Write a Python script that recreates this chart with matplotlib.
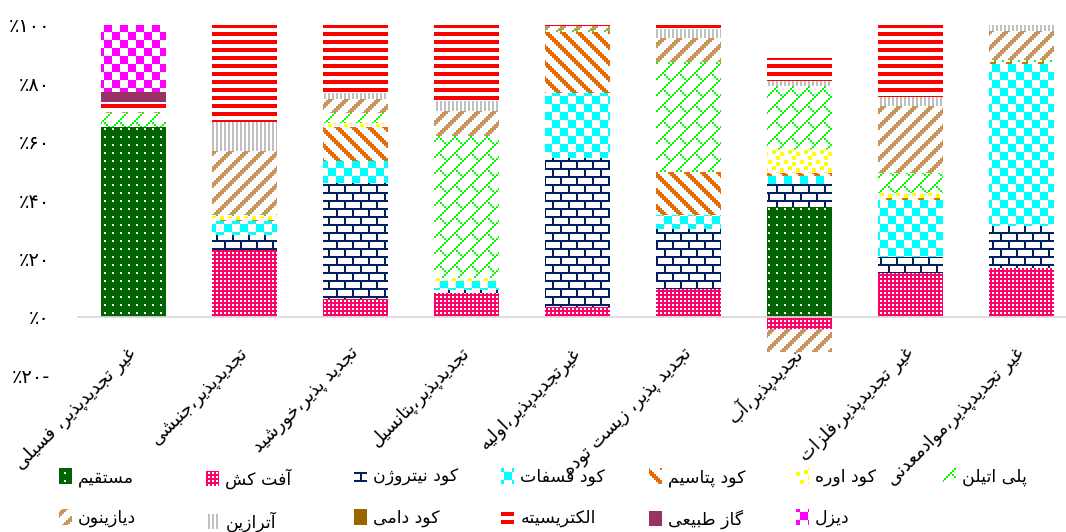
import numpy as np
import matplotlib
matplotlib.use('Agg')
import matplotlib.pyplot as plt
import matplotlib.hatch as mhatch
from matplotlib.path import Path

# ---------------- data ----------------
categories = ['غیر تجدیدپذیر، فسیلی', 'تجدیدپذیر،جنبشی', 'تجدید پذیر،خورشید',
              'تجدیدپذیر،پتانسیل', 'غیرتجدیدپذیر،اولیه', 'تجدید پذیر، زیست توده',
              'تجدیدپذیر،آب', 'غیر تجدیدپذیر،فلزات', 'غیر تجدیدپذیر،موادمعدنی']

series_names = ['مستقیم', 'آفت کش', 'کود نیتروژن', 'کود فسفات', 'کود پتاسیم', 'کود اوره',
                'پلی اتیلن', 'دیازینون', 'آترازین', 'کود دامی', 'الکتریسیته', 'گاز طبیعی', 'دیزل']

direct       = [65.0, 0.0, 0.0, 0.0, 0.0, 0.0, 37.6, 0.0, 0.0]
pesticide    = [0.0, 23.0, 6.0, 8.3, 3.3, 9.5, -4.2, 15.2, 16.7]
nitrogen     = [0.0, 5.0, 40.0, 1.0, 51.0, 20.5, 8.0, 5.3, 14.3]
phosphate    = [0.0, 5.0, 7.5, 3.2, 22.3, 5.1, 2.7, 19.6, 55.7]
potassium    = [0.0, 0.3, 11.4, 0.0, 21.1, 14.6, 0.9, 0.5, 0.5]
urea         = [0.0, 1.2, 1.4, 1.0, 0.0, 0.0, 8.2, 2.0, 0.0]
polyethylene = [5.0, 0.5, 3.4, 48.4, 0.3, 37.7, 21.7, 6.8, 0.7]
diazinon     = [0.3, 22.0, 5.1, 8.7, 1.7, 8.0, -7.7, 22.8, 10.0]
atrazine     = [0.0, 9.7, 1.9, 3.4, 0.0, 3.1, 1.8, 3.2, 2.0]
manure       = [0.0, 0.0, 0.0, 0.0, 0.0, 0.0, 0.0, 0.0, 0.0]
electricity  = [3.5, 33.3, 23.2, 26.0, 0.3, 1.5, 7.7, 24.6, 0.2]
natural_gas  = [3.4, 0.0, 0.0, 0.0, 0.0, 0.0, 0.0, 0.0, 0.0]
diesel       = [22.8, 0.0, 0.0, 0.0, 0.0, 0.0, 0.0, 0.0, 0.0]

series_values = [direct, pesticide, nitrogen, phosphate, potassium, urea, polyethylene,
                 diazinon, atrazine, manure, electricity, natural_gas, diesel]

yticks = [-20, 0, 20, 40, 60, 80, 100]
ytick_labels = ['٪۲۰-', '٪۰', '٪۲۰', '٪۴۰', '٪۶۰', '٪۸۰', '٪۱۰۰']

# ---------------- styles ----------------
face_colors = ['#006400', '#FF0066', 'white', 'white', 'white', 'white', 'white',
               'white', 'white', '#996600', 'white', '#993366', 'white']
hatch_colors = ['white', 'white', '#002060', '#00FFFF', '#E46C0A', '#FFFF00', '#00FF00',
                '#C8955C', '#C0C0C0', '#996600', '#FF0000', '#993366', '#FF00FF']
hatches = ['.', 'o', '+', 'X', '\\', '*', 'x', '/', '|', None, '-', None, 'X']

# ---------------- Excel-like 8x8 bitmap hatches ----------------
def _rows(rows):
    return np.array([[int(c) for c in r] for r in rows], dtype=bool)

def _diag(down):
    b = np.zeros((8, 8), bool)
    for r in range(8):
        for k in range(3):
            c = (r + k) % 8 if down else (7 - r - k) % 8
            b[r, c] = True
    return b

def _diag_brick():
    b = np.zeros((8, 8), bool)
    for r in range(8):
        b[r, (7 - r) % 8] = True
    for k in range(4):
        b[4 + k, 3 + k] = True
    return b

BITMAPS = {
    '.': _rows(['10001000', '00000000', '00000000', '00000000',
                '10001000', '00000000', '00000000', '00000000']),
    'o': _rows(['10101010', '00000000'] * 4),
    '+': _rows(['11111111', '10000000', '10000000', '10000000',
                '11111111', '00001000', '00001000', '00001000']),
    'X': _rows(['11110000'] * 4 + ['00001111'] * 4),
    '\\': _diag(True),
    '/': _diag(False),
    '*': _rows(['11000000', '11001100', '00001100', '00110000',
                '00110011', '00000011', '00001100', '00001100']),
    'x': _diag_brick(),
    '|': _rows(['10101010'] * 8),
    '-': _rows(['11111111', '11111111', '00000000', '00000000'] * 2),
}

REPEAT = 6  # 6 pattern repeats per hatch tile (tile = dpi pixels)

def _bitmap_path(bm):
    big = np.tile(bm, (REPEAT, REPEAT))
    n = big.shape[0]
    verts, codes = [], []
    for r in range(n):
        row = big[r]
        c = 0
        while c < n:
            if row[c]:
                c0 = c
                while c < n and row[c]:
                    c += 1
                x0, x1 = c0 / n, c / n
                yt, yb = 1 - r / n, 1 - (r + 1) / n
                verts += [(x0, yb), (x1, yb), (x1, yt), (x0, yt), (x0, yb)]
                codes += [Path.MOVETO, Path.LINETO, Path.LINETO, Path.LINETO, Path.CLOSEPOLY]
            else:
                c += 1
    return np.array(verts, float), np.array(codes, dtype=Path.code_type)

HATCH_PATHS = {k: _bitmap_path(v) for k, v in BITMAPS.items()}

class BitmapHatch(mhatch.HatchPatternBase):
    def __init__(self, hatch, density):
        key = hatch[0] if hatch else None
        self.verts, self.codes = HATCH_PATHS.get(key, (None, None))
        self.num_vertices = 0 if self.verts is None else len(self.verts)

    def set_vertices_and_codes(self, vertices, codes):
        vertices[:] = self.verts
        codes[:] = self.codes

mhatch._hatch_types[:] = [BitmapHatch]

# ---------------- minimal Persian shaping ----------------
FORMS = {
    '\u0627': ('\uFE8D', '\uFE8E', None, None),
    '\u0622': ('\uFE81', '\uFE82', None, None),
    '\u0628': ('\uFE8F', '\uFE90', '\uFE91', '\uFE92'),
    '\u067E': ('\uFB56', '\uFB57', '\uFB58', '\uFB59'),
    '\u062A': ('\uFE95', '\uFE96', '\uFE97', '\uFE98'),
    '\u062C': ('\uFE9D', '\uFE9E', '\uFE9F', '\uFEA0'),
    '\u062E': ('\uFEA5', '\uFEA6', '\uFEA7', '\uFEA8'),
    '\u062F': ('\uFEA9', '\uFEAA', None, None),
    '\u0630': ('\uFEAB', '\uFEAC', None, None),
    '\u0631': ('\uFEAD', '\uFEAE', None, None),
    '\u0632': ('\uFEAF', '\uFEB0', None, None),
    '\u0698': ('\uFB8A', '\uFB8B', None, None),
    '\u0633': ('\uFEB1', '\uFEB2', '\uFEB3', '\uFEB4'),
    '\u0634': ('\uFEB5', '\uFEB6', '\uFEB7', '\uFEB8'),
    '\u0637': ('\uFEC1', '\uFEC2', '\uFEC3', '\uFEC4'),
    '\u0639': ('\uFEC9', '\uFECA', '\uFECB', '\uFECC'),
    '\u063A': ('\uFECD', '\uFECE', '\uFECF', '\uFED0'),
    '\u0641': ('\uFED1', '\uFED2', '\uFED3', '\uFED4'),
    '\u0642': ('\uFED5', '\uFED6', '\uFED7', '\uFED8'),
    '\u06A9': ('\uFB8E', '\uFB8F', '\uFB90', '\uFB91'),
    '\u06AF': ('\uFB92', '\uFB93', '\uFB94', '\uFB95'),
    '\u0644': ('\uFEDD', '\uFEDE', '\uFEDF', '\uFEE0'),
    '\u0645': ('\uFEE1', '\uFEE2', '\uFEE3', '\uFEE4'),
    '\u0646': ('\uFEE5', '\uFEE6', '\uFEE7', '\uFEE8'),
    '\u0647': ('\uFEE9', '\uFEEA', '\uFEEB', '\uFEEC'),
    '\u0648': ('\uFEED', '\uFEEE', None, None),
    '\u06CC': ('\uFBFC', '\uFBFD', '\uFBFE', '\uFBFF'),
}

def shape(s):
    out = []
    for i, ch in enumerate(s):
        f = FORMS.get(ch)
        if f is None:
            out.append(ch)
            continue
        prev = s[i - 1] if i > 0 else None
        nxt = s[i + 1] if i + 1 < len(s) else None
        jp = prev in FORMS and FORMS[prev][2] is not None
        jn = f[2] is not None and nxt in FORMS
        out.append(f[3] if (jp and jn) else f[1] if jp else f[2] if jn else f[0])
    return ''.join(reversed(out))

# ---------------- figure ----------------
plt.rcParams['font.family'] = ['DejaVu Sans']
plt.rcParams['hatch.linewidth'] = 0.0
DPI = 96
W, H = 1066, 532
fig = plt.figure(figsize=(W / DPI, H / DPI), dpi=DPI)
ax = fig.add_axes([78 / W, (H - 375.4) / H, 999 / W, 350.4 / H])

x = np.arange(len(categories))
pos = np.zeros(len(categories))
neg = np.zeros(len(categories))
containers = []
for vals, name, fc, hc, h in zip(series_values, series_names, face_colors, hatch_colors, hatches):
    v = np.array(vals, float)
    bottom = np.where(v >= 0, pos, neg)
    bc = ax.bar(x, v, 0.578, bottom=bottom, color=fc, edgecolor=hc, hatch=h,
                linewidth=0, zorder=2)
    containers.append(bc)
    pos += np.clip(v, 0, None)
    neg += np.clip(v, None, 0)

ax.set_xlim(-0.5, 8.5)
ax.set_ylim(-20, 100)
for s in ['left', 'right', 'top']:
    ax.spines[s].set_visible(False)
ax.spines['bottom'].set_position(('data', 0))
ax.spines['bottom'].set_color('#D9D9D9')
ax.spines['bottom'].set_linewidth(1.3)
ax.spines['bottom'].set_zorder(3)

ax.set_yticks(yticks, ytick_labels, fontsize=14.5)
ax.tick_params(axis='y', length=0, pad=21)
ax.set_xticks(x, [shape(c) for c in categories], rotation=45, ha='right', va='center',
              rotation_mode='anchor', fontsize=13.5)
ax.tick_params(axis='x', length=0, pad=25)

# legend: 7 columns, filled row-wise
fs = 13
fs_px = fs * DPI / 72
ncol = 7
for c in range(ncol):
    idx = [c, c + ncol]
    idx = [i for i in idx if i < len(series_names)]
    fig.legend([containers[i] for i in idx], [shape(series_names[i]) for i in idx],
               loc='upper left', bbox_to_anchor=((59 + 147.4 * c) / W, 1 - 468 / H),
               frameon=False, fontsize=fs, borderpad=0, borderaxespad=0,
               handlelength=13 / fs_px, handleheight=12 / fs_px + 0.3,
               handletextpad=0.35, labelspacing=1.3)

fig.savefig('out.png', dpi=DPI)
